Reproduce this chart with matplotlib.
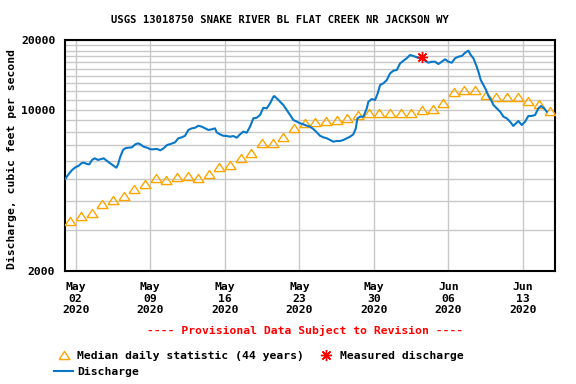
import numpy as np
import pandas as pd
import matplotlib
matplotlib.use('Agg')
import matplotlib.pyplot as plt
import matplotlib.dates as mdates
from matplotlib.ticker import FixedLocator, NullFormatter

# --- data ---
start = pd.Timestamp('2020-05-01')

# discharge (cfs), time given as days after May 1 00:00
q_days = [0.03, 0.28, 0.66, 0.97, 1.29, 1.53, 1.76, 2.07, 2.28, 2.54, 2.79, 3.10, 3.41, 3.63,
          3.94, 4.25, 4.57, 4.82, 4.98, 5.19, 5.45, 5.66, 5.98, 6.29, 6.60, 6.85, 7.07, 7.39,
          7.70, 8.01, 8.33, 8.64, 8.95, 9.27, 9.58, 9.89, 10.33, 10.64, 10.96, 11.27, 11.58,
          11.90, 12.21, 12.52, 12.84, 13.15, 13.46, 13.77, 14.08, 14.24, 14.55, 14.86, 15.18,
          15.49, 15.80, 16.12, 16.43, 16.74, 17.06, 17.37, 17.68, 18.00, 18.31, 18.62, 18.94,
          19.25, 19.56, 19.65, 19.88, 20.19, 20.50, 20.82, 21.13, 21.44, 21.76, 22.07, 22.38,
          22.69, 23.00, 23.31, 23.63, 23.94, 24.25, 24.57, 24.88, 25.19, 25.51, 25.82, 26.13,
          26.45, 26.76, 27.07, 27.30, 27.45, 27.70, 28.01, 28.33, 28.48, 28.80, 29.11, 29.36,
          29.58, 29.89, 30.21, 30.52, 30.83, 31.15, 31.46, 31.77, 32.08, 32.39, 32.71, 33.02,
          33.49, 33.80, 34.11, 34.43, 34.74, 35.05, 35.37, 35.68, 35.99, 36.31, 36.62, 36.93,
          37.25, 37.56, 37.87, 38.09, 38.34, 38.59, 38.81, 39.03, 39.28, 39.53, 39.75, 40.00,
          40.22, 40.53, 40.85, 41.16, 41.47, 41.78, 42.09, 42.35, 42.56, 42.88, 43.19, 43.50,
          43.82, 44.13, 44.44, 44.69, 44.98, 45.23]
q_cfs = [5000, 5210, 5470, 5620, 5710, 5850, 5890, 5810, 5790, 6050, 6150, 6050, 6110, 6150,
         5990, 5850, 5710, 5600, 5790, 6250, 6680, 6800, 6840, 6860, 7070, 7140, 7070, 6900,
         6840, 6730, 6730, 6750, 6660, 6800, 7020, 7090, 7210, 7510, 7580, 7700, 8160,
         8290, 8340, 8510, 8430, 8290, 8160, 8210, 8290, 7970, 7810, 7700, 7680,
         7630, 7680, 7550, 7810, 8020, 7940, 8430, 9160, 9220, 9470, 10180, 10120,
         10640, 11360, 11440, 11180, 10810, 10460, 9950, 9470, 9010, 8860, 8720, 8630,
         8510, 8430, 8240, 7970, 7700, 7580, 7510, 7380, 7260, 7310, 7310, 7380,
         7510, 7630, 7810, 8290, 9160, 9310, 9310, 10120, 10810, 11100, 11000, 11760,
         12770, 12990, 13420, 14350, 14730, 14830, 15850, 16270, 16670, 17220, 17050, 16830,
         16670, 16270, 15950, 16110, 16110, 15740, 16110, 16500, 16110, 15950, 16670, 16940,
         17050, 17620, 17980, 17220, 16670, 15590, 14580, 13420, 12770, 12150, 11440, 11000,
         10460, 10120, 9790, 9310, 9160, 8860, 8490, 8720, 8920, 8570, 8860, 9380,
         9380, 9470, 10120, 10360, 10120, 9790]

# median daily statistic (44 years), one per day May 1 - Jun 15
median_cfs = [3300, 3470, 3580, 3910, 4060, 4240, 4540, 4760, 5070, 4950, 5120, 5170, 5070,
              5240, 5620, 5740, 6190, 6500, 7180, 7180, 7630, 8290, 8740, 8810, 8920, 9010,
              9160, 9470, 9630, 9690, 9630, 9690, 9630, 9930, 10100, 10700, 11900, 12200,
              12200, 11600, 11300, 11300, 11300, 10900, 10600, 9890]

meas_day = 33.55
meas_cfs = 16800

tick_dates = ['2020-05-02', '2020-05-09', '2020-05-16', '2020-05-23',
              '2020-05-30', '2020-06-06', '2020-06-13']

q_time = start + pd.to_timedelta(q_days, unit='D')
med_time = pd.date_range('2020-05-01 12:00', periods=len(median_cfs), freq='D')
meas_time = start + pd.Timedelta(days=meas_day)

mono = 'DejaVu Sans Mono'
fs = 8.2

fig = plt.figure(figsize=(5.76, 3.84), dpi=100)
ax = fig.add_axes([65/576, 1 - 271/384, 490/576, 231/384])

tri = [(-1, -0.75), (1, -0.75), (0, 0.75), (-1, -0.75)]
h_med, = ax.plot(med_time, median_cfs, ls='none', marker=tri, ms=7.8, mfc='none',
                 mec='#ffa500', mew=1.0, label='Median daily statistic (44 years)', zorder=3)
h_q, = ax.plot(q_time, q_cfs, color='#0a78c8', lw=1.5, label='Discharge', zorder=4)
h_m, = ax.plot([meas_time], [meas_cfs], ls='none', marker=(8, 2, 0), ms=8, mec='red',
               mew=1.0, label='Measured discharge', zorder=5)

ax.set_yscale('log')
ax.set_ylim(2000, 20000)
ax.set_xlim(start, pd.Timestamp('2020-06-16'))

ax.yaxis.set_major_locator(FixedLocator([2000, 10000, 20000]))
ax.yaxis.set_major_formatter(plt.FuncFormatter(lambda v, p: '%d' % v))
minors = list(range(3000, 10000, 1000)) + list(range(11000, 20000, 1000))
ax.yaxis.set_minor_locator(FixedLocator(minors))
ax.yaxis.set_minor_formatter(NullFormatter())

ax.set_xticks(pd.to_datetime(tick_dates))
ax.xaxis.set_major_formatter(mdates.DateFormatter('%b\n%d\n%Y'))

ax.grid(True, which='both', axis='y', color='#c8c8c8', lw=1.0)
ax.grid(True, which='major', axis='x', color='#c8c8c8', lw=1.0)
ax.set_axisbelow(True)
ax.tick_params(axis='both', which='both', length=0)
ax.tick_params(axis='x', pad=8)
ax.tick_params(axis='y', pad=7)
for lab in ax.get_xticklabels() + ax.get_yticklabels():
    lab.set_family(mono)
    lab.set_weight('bold')
    lab.set_fontsize(fs)
for sp in ax.spines.values():
    sp.set_linewidth(1.5)

fig.text(280/576, 1 - 20/384, 'USGS 13018750 SNAKE RIVER BL FLAT CREEK NR JACKSON WY',
         family=mono, weight='bold', fontsize=7.6, ha='center', va='center')
fig.text(12/576, 1 - 159/384, 'Discharge, cubic feet per second', family=mono,
         weight='bold', fontsize=fs, rotation=90, ha='center', va='center')
fig.text(305/576, 1 - 330/384, '---- Provisional Data Subject to Revision ----',
         family=mono, weight='bold', fontsize=fs, color='red', ha='center', va='center')

fig.legend(handles=[h_med, h_q, h_m], ncol=2, loc='upper left',
           bbox_to_anchor=(54/576, 1 - 351/384), frameon=False, borderpad=0,
           borderaxespad=0, handlelength=1.7, handletextpad=0.35, columnspacing=1.1,
           labelspacing=0.55, prop=dict(family=mono, weight='bold', size=fs))

fig.savefig('out.png', dpi=100)
